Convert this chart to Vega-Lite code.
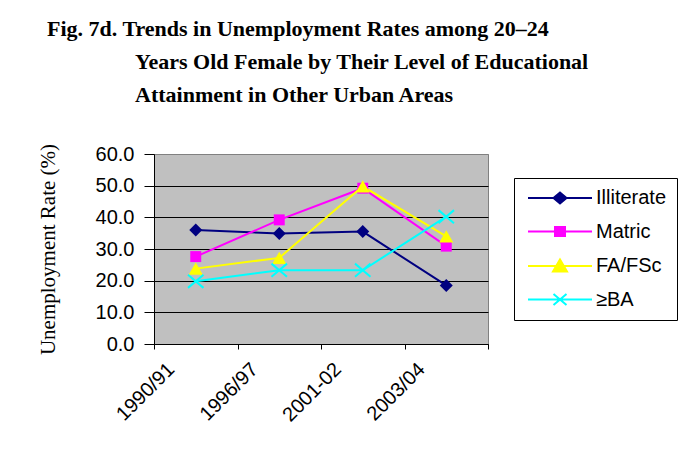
{
  "$schema": "https://vega.github.io/schema/vega-lite/v6.json",
  "width": 334,
  "height": 190,
  "autosize": "none",
  "padding": {"left": 154, "top": 154, "right": 194, "bottom": 110},
  "background": "white",
  "title": {
    "text": [
      "Fig. 7d. Trends in Unemployment Rates among 20–24",
      "\u200b\u00a0\u00a0\u00a0\u00a0\u00a0\u00a0\u00a0\u00a0\u00a0\u00a0\u00a0\u00a0\u00a0\u00a0\u00a0\u00a0Years Old Female by Their Level of Educational",
      "\u200b\u00a0\u00a0\u00a0\u00a0\u00a0\u00a0\u00a0\u00a0\u00a0\u00a0\u00a0\u00a0\u00a0\u00a0\u00a0\u00a0Attainment in Other Urban Areas"
    ],
    "anchor": "start",
    "frame": "group",
    "font": "Liberation Serif",
    "fontSize": 22,
    "fontWeight": "bold",
    "color": "black",
    "lineHeight": 33,
    "baseline": "alphabetic",
    "dx": -107,
    "offset": 19
  },
  "data": {
    "values": [
      {"period": "1990/91", "series": "Illiterate", "rate": 36.0},
      {"period": "1996/97", "series": "Illiterate", "rate": 34.9},
      {"period": "2001-02", "series": "Illiterate", "rate": 35.5},
      {"period": "2003/04", "series": "Illiterate", "rate": 18.5},
      {"period": "1990/91", "series": "Matric", "rate": 27.6},
      {"period": "1996/97", "series": "Matric", "rate": 39.2},
      {"period": "2001-02", "series": "Matric", "rate": 49.2},
      {"period": "2003/04", "series": "Matric", "rate": 30.9},
      {"period": "1990/91", "series": "FA/FSc", "rate": 23.8},
      {"period": "1996/97", "series": "FA/FSc", "rate": 27.2},
      {"period": "2001-02", "series": "FA/FSc", "rate": 49.8},
      {"period": "2003/04", "series": "FA/FSc", "rate": 34.0},
      {"period": "1990/91", "series": "≥BA", "rate": 19.8},
      {"period": "1996/97", "series": "≥BA", "rate": 23.3},
      {"period": "2001-02", "series": "≥BA", "rate": 23.3},
      {"period": "2003/04", "series": "≥BA", "rate": 40.2}
    ]
  },
  "encoding": {
    "x": {
      "field": "period",
      "type": "ordinal",
      "sort": ["1990/91", "1996/97", "2001-02", "2003/04"],
      "scale": {"type": "band", "paddingInner": 0, "paddingOuter": 0},
      "axis": {
        "title": null,
        "tickBand": "extent",
        "domainColor": "black",
        "tickColor": "black",
        "tickSize": 5,
        "labelAngle": -45,
        "labelAlign": "right",
        "labelBaseline": "middle",
        "labelOffset": -25,
        "labelPadding": 17,
        "labelFont": "Liberation Sans",
        "labelFontSize": 20,
        "labelColor": "black",
        "grid": false
      }
    },
    "y": {
      "field": "rate",
      "type": "quantitative",
      "scale": {"domain": [0, 60], "nice": false, "zero": true},
      "axis": {
        "title": "Unemployment Rate (%)",
        "titleFont": "Liberation Serif",
        "titleFontSize": 21,
        "titleFontWeight": "normal",
        "titleColor": "black",
        "titlePadding": 37,
        "values": [0, 10, 20, 30, 40, 50, 60],
        "format": ".1f",
        "domainColor": "black",
        "tickColor": "black",
        "tickSize": 10,
        "labelPadding": 10,
        "labelFont": "Liberation Sans",
        "labelFontSize": 20,
        "labelColor": "black",
        "grid": true,
        "gridColor": {"condition": {"test": "datum.value == 60", "value": "#808080"}, "value": "black"},
        "gridOpacity": 1,
        "gridWidth": 1
      }
    }
  },
  "layer": [
    {
      "mark": {"type": "line", "strokeWidth": 2},
      "encoding": {
        "color": {
          "field": "series",
          "type": "nominal",
          "scale": {"domain": ["Illiterate", "Matric", "FA/FSc", "≥BA"], "range": ["#000080", "#FF00FF", "#FFFF00", "#00FFFF"]},
          "legend": {"title": null, "orient": "none", "legendX": 360, "legendY": 24, "padding": 10, "strokeColor": "black", "symbolOffset": 26, "labelOffset": 26, "labelFont": "Liberation Sans", "labelFontSize": 20, "labelColor": "black", "labelLimit": 200, "rowPadding": 13.5, "symbolSize": 100, "symbolStrokeWidth": 2}
        }
      }
    },
    {
      "transform": [{"filter": "datum.series === 'Illiterate'"}],
      "mark": {"type": "point", "shape": "diamond", "filled": true, "opacity": 1, "color": "#000080", "size": 170}
    },
    {
      "transform": [{"filter": "datum.series === 'Matric'"}],
      "mark": {"type": "point", "shape": "square", "filled": true, "opacity": 1, "color": "#FF00FF", "size": 120}
    },
    {
      "transform": [{"filter": "datum.series === 'FA/FSc'"}],
      "mark": {"type": "point", "shape": "triangle-up", "filled": true, "opacity": 1, "color": "#FFFF00", "size": 200}
    },
    {
      "transform": [{"filter": "datum.series === '≥BA'"}],
      "mark": {"type": "point", "shape": "M-1,-0.85L1,0.85M-1,0.85L1,-0.85", "filled": false, "opacity": 1, "color": "#00FFFF", "strokeWidth": 2, "size": 240}
    },
    {
      "transform": [{"filter": "datum.rate < 0"}],
      "mark": {"type": "point", "opacity": 1, "filled": true, "strokeWidth": 2},
      "encoding": {
        "fill": {
          "field": "series",
          "type": "nominal",
          "scale": {"domain": ["Illiterate", "Matric", "FA/FSc", "≥BA"], "range": ["#000080", "#FF00FF", "#FFFF00", "#00FFFF"]},
          "legend": {"title": null, "orient": "none", "legendX": 360, "legendY": 24, "padding": 10, "strokeColor": "black", "symbolOffset": 26, "labelOffset": 26, "labelFont": "Liberation Sans", "labelFontSize": 20, "labelColor": "black", "labelLimit": 200, "rowPadding": 13.5, "symbolSize": 100, "symbolStrokeWidth": 2}
        },
        "stroke": {
          "field": "series",
          "type": "nominal",
          "scale": {"domain": ["Illiterate", "Matric", "FA/FSc", "≥BA"], "range": ["#000080", "#FF00FF", "#FFFF00", "#00FFFF"]},
          "legend": {"title": null, "orient": "none", "legendX": 360, "legendY": 24, "padding": 10, "strokeColor": "black", "symbolOffset": 26, "labelOffset": 26, "labelFont": "Liberation Sans", "labelFontSize": 20, "labelColor": "black", "labelLimit": 200, "rowPadding": 13.5, "symbolSize": 100, "symbolStrokeWidth": 2}
        },
        "shape": {
          "field": "series",
          "type": "nominal",
          "scale": {"domain": ["Illiterate", "Matric", "FA/FSc", "≥BA"], "range": ["M-6.4,0H6.4M-1.3,0L0,-1.1L1.3,0L0,1.1Z", "M-6.4,0H6.4M-1,-0.9H1V0.9H-1Z", "M-6.4,0H6.4M0,-1.3L1.4,1.1H-1.4Z", "M-6.4,0H6.4M-1.3,-1.1L1.3,1.1M-1.3,1.1L1.3,-1.1"]},
          "legend": {"title": null, "orient": "none", "legendX": 360, "legendY": 24, "padding": 10, "strokeColor": "black", "symbolOffset": 26, "labelOffset": 26, "labelFont": "Liberation Sans", "labelFontSize": 20, "labelColor": "black", "labelLimit": 200, "rowPadding": 13.5, "symbolSize": 100, "symbolStrokeWidth": 2}
        }
      }
    }
  ],
  "config": {
    "font": "Liberation Sans",
    "view": {"fill": "#C0C0C0", "stroke": "#808080", "strokeWidth": 1}
  }
}
